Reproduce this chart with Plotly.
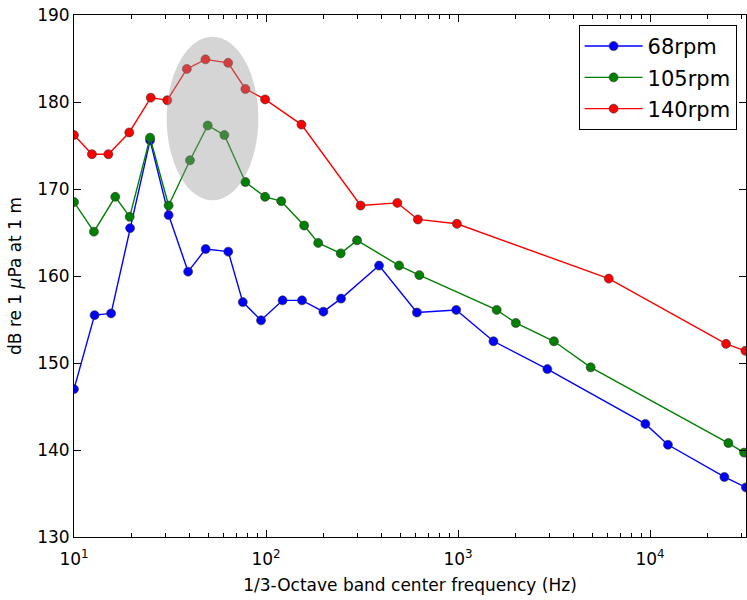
import math
import plotly.graph_objects as go

# ---- data ----
freq_68 = [10, 12.8, 15.6, 19.6, 24.9, 31.1, 39.3, 48.5, 63.6, 75.7, 94.2, 122, 154, 199, 246,
           388, 611, 979, 1530, 2920, 9460, 12400, 24400, 31600]
db_68 = [147.0, 155.5, 155.7, 165.5, 175.6, 167.0, 160.5, 163.1, 162.8, 157.0, 154.9, 157.2, 157.2,
         155.9, 157.4, 161.2, 155.8, 156.1, 152.5, 149.3, 143.0, 140.6, 136.9, 135.7]

freq_105 = [10, 12.7, 16.4, 19.5, 24.9, 31.1, 40.2, 49.7, 60.7, 78.1, 98.9, 120, 158, 187, 245,
            298, 493, 629, 1590, 2000, 3160, 4910, 25600, 30900]
db_105 = [168.5, 165.1, 169.1, 166.8, 175.9, 168.1, 173.3, 177.3, 176.2, 170.8, 169.1, 168.6, 165.8,
          163.8, 162.6, 164.1, 161.2, 160.1, 156.1, 154.6, 152.5, 149.5, 140.8, 139.7]

freq_140 = [10, 12.4, 15.1, 19.4, 25.1, 30.6, 38.7, 48.4, 63.5, 78.1, 98.9, 153, 311, 483, 618,
            987, 6100, 24900, 31400]
db_140 = [176.2, 174.0, 174.0, 176.5, 180.5, 180.2, 183.8, 184.9, 184.5, 181.5, 180.3, 177.4, 168.1,
          168.4, 166.5, 166.0, 159.7, 152.2, 151.4]

series_names = ["68rpm", "105rpm", "140rpm"]
x_tick_vals = [10, 100, 1000, 10000]
x_tick_text = ["10<sup>1</sup>", "10<sup>2</sup>", "10<sup>3</sup>", "10<sup>4</sup>"]

# highlighted region (ellipse) in data terms
ell_f_lo, ell_f_hi = 30.4, 91.2
ell_db_lo, ell_db_hi = 168.7, 187.5

X_LOG_RANGE = [1, 4.5]
Y_RANGE = [130, 190]

FONT = "DejaVu Sans"
colors = ["#0000ff", "#008000", "#ff0000"]

fig = go.Figure()
for name, xs, ys, c in zip(series_names, [freq_68, freq_105, freq_140], [db_68, db_105, db_140], colors):
    fig.add_trace(go.Scatter(
        x=xs, y=ys, name=name, mode="lines+markers", legendgroup=name,
        line=dict(color=c, width=1.4),
        marker=dict(color=c, size=9, line=dict(color="#333333", width=0.6)),
    ))

def xpaper(f):
    return (math.log10(f) - X_LOG_RANGE[0]) / (X_LOG_RANGE[1] - X_LOG_RANGE[0])

fig.add_shape(type="circle", xref="paper", yref="y",
              x0=xpaper(ell_f_lo), x1=xpaper(ell_f_hi), y0=ell_db_lo, y1=ell_db_hi,
              fillcolor="rgba(150,150,150,0.4)", line=dict(width=0), layer="above")

axis_common = dict(showline=True, linecolor="black", linewidth=1, mirror="ticks",
                   ticks="inside", tickcolor="black", showgrid=False, zeroline=False,
                   automargin=False, ticklabeloverflow="allow",
                   tickfont=dict(family=FONT, size=17, color="black"))

fig.update_layout(
    width=747, height=600,
    margin=dict(l=74, r=1, t=15, b=63, autoexpand=False),
    paper_bgcolor="white", plot_bgcolor="white",
    font=dict(family=FONT, size=17, color="black"),
    xaxis=dict(type="log", range=X_LOG_RANGE, tickvals=x_tick_vals, ticktext=x_tick_text,
               ticklen=7, tickwidth=1, ticklabelstandoff=7,
               minor=dict(ticks="inside", ticklen=4, tickcolor="black", dtick="D1", showgrid=False),
               title=dict(text="1/3-Octave band center frequency (Hz)", font=dict(family=FONT, size=17),
                          standoff=10),
               **axis_common),
    yaxis=dict(range=Y_RANGE, dtick=10, ticklen=7, tickwidth=1,
               title=dict(text="dB re 1 <i>μ</i>Pa at 1 m", font=dict(family=FONT, size=17), standoff=11),
               **axis_common),
    legend=dict(x=0.986, y=0.981, xanchor="right", yanchor="top",
                bgcolor="white", bordercolor="black", borderwidth=1,
                itemwidth=58, tracegroupgap=1, entrywidth=99,
                font=dict(family=FONT, size=21, color="black")),
    showlegend=True,
)

fig.write_html(
    "out.html",
    config={"displayModeBar": False},
    post_script="document.body.style.margin='0';document.body.style.overflow='hidden';",
)
